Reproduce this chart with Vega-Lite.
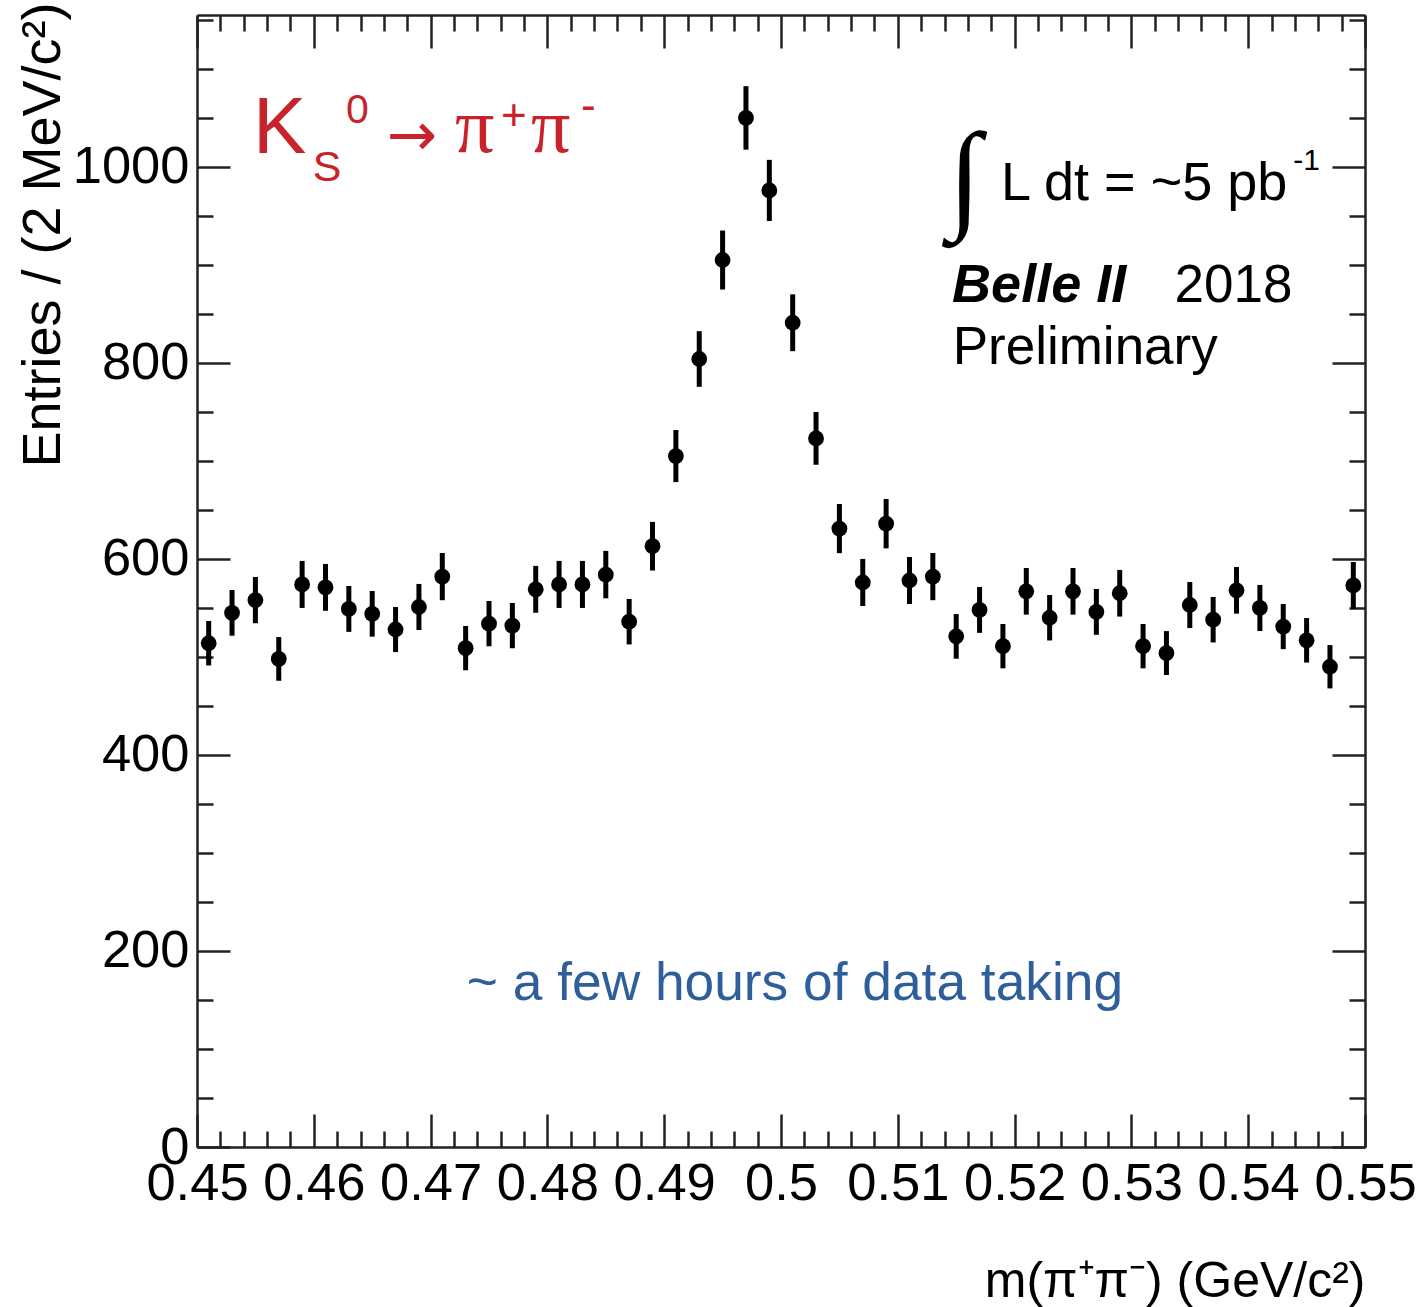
{
  "$schema": "https://vega.github.io/schema/vega-lite/v6.json",
  "width": 1168,
  "height": 1132,
  "autosize": "none",
  "padding": {"left": 197, "top": 15, "right": 56, "bottom": 160},
  "background": "white",
  "config": {
    "view": {"stroke": null},
    "font": "Liberation Sans",
    "axis": {
      "domainColor": "#222222",
      "domainWidth": 2.5,
      "tickColor": "#222222",
      "tickWidth": 2.5,
      "labelFont": "Liberation Sans",
      "labelFontSize": 52.5,
      "labelColor": "black",
      "labelFlush": false,
      "labelOverlap": false,
      "labelBound": false,
      "grid": false,
      "titleFont": "Liberation Sans",
      "titleFontWeight": "normal",
      "titleColor": "black"
    }
  },
  "data": {
    "values": [
      {"m": 0.451, "n": 514, "e": 22.7},
      {"m": 0.453, "n": 545, "e": 23.3},
      {"m": 0.455, "n": 558, "e": 23.6},
      {"m": 0.457, "n": 498, "e": 22.3},
      {"m": 0.459, "n": 574, "e": 24.0},
      {"m": 0.461, "n": 571, "e": 23.9},
      {"m": 0.463, "n": 549, "e": 23.4},
      {"m": 0.465, "n": 544, "e": 23.3},
      {"m": 0.467, "n": 528, "e": 23.0},
      {"m": 0.469, "n": 551, "e": 23.5},
      {"m": 0.471, "n": 582, "e": 24.1},
      {"m": 0.473, "n": 509, "e": 22.6},
      {"m": 0.475, "n": 534, "e": 23.1},
      {"m": 0.477, "n": 532, "e": 23.1},
      {"m": 0.479, "n": 569, "e": 23.9},
      {"m": 0.481, "n": 574, "e": 24.0},
      {"m": 0.483, "n": 574, "e": 24.0},
      {"m": 0.485, "n": 584, "e": 24.2},
      {"m": 0.487, "n": 536, "e": 23.2},
      {"m": 0.489, "n": 613, "e": 24.8},
      {"m": 0.491, "n": 705, "e": 26.6},
      {"m": 0.493, "n": 804, "e": 28.4},
      {"m": 0.495, "n": 905, "e": 30.1},
      {"m": 0.497, "n": 1050, "e": 32.4},
      {"m": 0.499, "n": 976, "e": 31.2},
      {"m": 0.501, "n": 841, "e": 29.0},
      {"m": 0.503, "n": 723, "e": 26.9},
      {"m": 0.505, "n": 631, "e": 25.1},
      {"m": 0.507, "n": 576, "e": 24.0},
      {"m": 0.509, "n": 636, "e": 25.2},
      {"m": 0.511, "n": 578, "e": 24.0},
      {"m": 0.513, "n": 582, "e": 24.1},
      {"m": 0.515, "n": 521, "e": 22.8},
      {"m": 0.517, "n": 548, "e": 23.4},
      {"m": 0.519, "n": 511, "e": 22.6},
      {"m": 0.521, "n": 567, "e": 23.8},
      {"m": 0.523, "n": 540, "e": 23.2},
      {"m": 0.525, "n": 567, "e": 23.8},
      {"m": 0.527, "n": 546, "e": 23.4},
      {"m": 0.529, "n": 565, "e": 23.8},
      {"m": 0.531, "n": 511, "e": 22.6},
      {"m": 0.533, "n": 504, "e": 22.4},
      {"m": 0.535, "n": 553, "e": 23.5},
      {"m": 0.537, "n": 538, "e": 23.2},
      {"m": 0.539, "n": 568, "e": 23.8},
      {"m": 0.541, "n": 550, "e": 23.5},
      {"m": 0.543, "n": 531, "e": 23.0},
      {"m": 0.545, "n": 517, "e": 22.7},
      {"m": 0.547, "n": 490, "e": 22.1},
      {"m": 0.549, "n": 573, "e": 23.9}
    ]
  },
  "resolve": {"axis": {"x": "independent", "y": "independent"}},
  "layer": [
    {
      "mark": {"type": "errorbar", "color": "black", "thickness": 5},
      "encoding": {
        "x": {
          "field": "m", "type": "quantitative",
          "scale": {"domain": [0.45, 0.55], "nice": false, "zero": false},
          "axis": {
            "orient": "top", "title": null, "labels": false,
            "values": [0.45,0.452,0.454,0.456,0.458,0.46,0.462,0.464,0.466,0.468,0.47,0.472,0.474,0.476,0.478,0.48,0.482,0.484,0.486,0.488,0.49,0.492,0.494,0.496,0.498,0.5,0.502,0.504,0.506,0.508,0.51,0.512,0.514,0.516,0.518,0.52,0.522,0.524,0.526,0.528,0.53,0.532,0.534,0.536,0.538,0.54,0.542,0.544,0.546,0.548,0.55],
            "tickSize": {"condition": {"test": "abs(datum.value*100 - round(datum.value*100)) < 1e-6", "value": -33}, "value": -16}
          }
        },
        "y": {
          "field": "n", "type": "quantitative",
          "scale": {"domain": [0, 1155], "nice": false, "zero": true},
          "axis": {
            "orient": "right", "title": null, "labels": false,
            "values": [0,50,100,150,200,250,300,350,400,450,500,550,600,650,700,750,800,850,900,950,1000,1050,1100,1150],
            "tickSize": {"condition": {"test": "datum.value % 200 === 0", "value": -33}, "value": -16}
          }
        },
        "yError": {"field": "e"}
      }
    },
    {
      "mark": {"type": "point", "filled": true, "shape": "circle", "size": 250, "color": "black", "opacity": 1},
      "encoding": {
        "x": {
          "field": "m", "type": "quantitative",
          "axis": {
            "orient": "bottom",
            "title": "m(π⁺π⁻) (GeV/c²)",
            "titleFontSize": 50,
            "titleAnchor": "end",
            "titlePadding": 30,
            "values": [0.45,0.452,0.454,0.456,0.458,0.46,0.462,0.464,0.466,0.468,0.47,0.472,0.474,0.476,0.478,0.48,0.482,0.484,0.486,0.488,0.49,0.492,0.494,0.496,0.498,0.5,0.502,0.504,0.506,0.508,0.51,0.512,0.514,0.516,0.518,0.52,0.522,0.524,0.526,0.528,0.53,0.532,0.534,0.536,0.538,0.54,0.542,0.544,0.546,0.548,0.55],
            "format": ".2~f",
            "labelExpr": "abs(datum.value*100 - round(datum.value*100)) < 1e-6 ? format(datum.value, '.2~f') : ''",
            "labelPadding": 44,
            "tickSize": {"condition": {"test": "abs(datum.value*100 - round(datum.value*100)) < 1e-6", "value": -33}, "value": -16}
          }
        },
        "y": {
          "field": "n", "type": "quantitative",
          "axis": {
            "orient": "left",
            "title": "Entries / (2 MeV/c²)",
            "titleFontSize": 54,
            "titleAnchor": "end",
            "titleY": -13,
            "titlePadding": 2,
            "values": [0,50,100,150,200,250,300,350,400,450,500,550,600,650,700,750,800,850,900,950,1000,1050,1100,1150],
            "format": "d",
            "labelExpr": "datum.value % 200 === 0 ? datum.label : ''",
            "labelPadding": 41,
            "tickSize": {"condition": {"test": "datum.value % 200 === 0", "value": -33}, "value": -16}
          }
        }
      }
    },
    {
      "data": {"values": [{}]},
      "mark": {"type": "text", "text": "K", "font": "Liberation Sans", "fontSize": 80, "color": "#c8232b", "align": "left", "baseline": "alphabetic"},
      "encoding": {"x": {"datum": 0.4548, "type": "quantitative", "axis": null}, "y": {"datum": 1014, "type": "quantitative", "axis": null}}
    },
    {
      "data": {"values": [{}]},
      "mark": {"type": "text", "text": "S", "font": "Liberation Sans", "fontSize": 43, "color": "#c8232b", "align": "left", "baseline": "alphabetic"},
      "encoding": {"x": {"datum": 0.4599, "type": "quantitative", "axis": null}, "y": {"datum": 986, "type": "quantitative", "axis": null}}
    },
    {
      "data": {"values": [{}]},
      "mark": {"type": "text", "text": "0", "font": "Liberation Sans", "fontSize": 41, "color": "#c8232b", "align": "left", "baseline": "alphabetic"},
      "encoding": {"x": {"datum": 0.46276, "type": "quantitative", "axis": null}, "y": {"datum": 1045, "type": "quantitative", "axis": null}}
    },
    {
      "data": {"values": [{}]},
      "mark": {"type": "text", "text": "→", "font": "DejaVu Sans", "fontSize": 60, "color": "#c8232b", "align": "left", "baseline": "alphabetic"},
      "encoding": {"x": {"datum": 0.46627, "type": "quantitative", "axis": null}, "y": {"datum": 1012, "type": "quantitative", "axis": null}}
    },
    {
      "data": {"values": [{}]},
      "mark": {"type": "text", "text": "π", "font": "Liberation Serif", "fontSize": 78, "color": "#c8232b", "align": "left", "baseline": "alphabetic"},
      "encoding": {"x": {"datum": 0.47209, "type": "quantitative", "axis": null}, "y": {"datum": 1015, "type": "quantitative", "axis": null}}
    },
    {
      "data": {"values": [{}]},
      "mark": {"type": "text", "text": "+", "font": "Liberation Sans", "fontSize": 44, "color": "#c8232b", "align": "left", "baseline": "alphabetic"},
      "encoding": {"x": {"datum": 0.47603, "type": "quantitative", "axis": null}, "y": {"datum": 1038, "type": "quantitative", "axis": null}}
    },
    {
      "data": {"values": [{}]},
      "mark": {"type": "text", "text": "π", "font": "Liberation Serif", "fontSize": 78, "color": "#c8232b", "align": "left", "baseline": "alphabetic"},
      "encoding": {"x": {"datum": 0.4786, "type": "quantitative", "axis": null}, "y": {"datum": 1015, "type": "quantitative", "axis": null}}
    },
    {
      "data": {"values": [{}]},
      "mark": {"type": "text", "text": "-", "font": "Liberation Sans", "fontSize": 44, "color": "#c8232b", "align": "left", "baseline": "alphabetic"},
      "encoding": {"x": {"datum": 0.48288, "type": "quantitative", "axis": null}, "y": {"datum": 1048, "type": "quantitative", "axis": null}}
    },
    {
      "data": {"values": [{}]},
      "mark": {"type": "text", "text": "∫", "font": "Liberation Serif", "fontSize": 120, "fontWeight": "bold", "color": "black", "align": "left", "baseline": "alphabetic"},
      "encoding": {"x": {"datum": 0.5143, "type": "quantitative", "axis": null}, "y": {"datum": 950, "type": "quantitative", "axis": null}}
    },
    {
      "data": {"values": [{}]},
      "mark": {"type": "text", "text": "L dt = ~5 pb", "font": "Liberation Sans", "fontSize": 54, "color": "black", "align": "left", "baseline": "alphabetic"},
      "encoding": {"x": {"datum": 0.51884, "type": "quantitative", "axis": null}, "y": {"datum": 966, "type": "quantitative", "axis": null}}
    },
    {
      "data": {"values": [{}]},
      "mark": {"type": "text", "text": "-1", "font": "Liberation Sans", "fontSize": 30, "color": "black", "align": "left", "baseline": "alphabetic"},
      "encoding": {"x": {"datum": 0.54385, "type": "quantitative", "axis": null}, "y": {"datum": 997, "type": "quantitative", "axis": null}}
    },
    {
      "data": {"values": [{}]},
      "mark": {"type": "text", "text": "Belle II", "font": "Liberation Sans", "fontSize": 54, "fontWeight": "bold", "fontStyle": "italic", "color": "black", "align": "left", "baseline": "alphabetic"},
      "encoding": {"x": {"datum": 0.51465, "type": "quantitative", "axis": null}, "y": {"datum": 862, "type": "quantitative", "axis": null}}
    },
    {
      "data": {"values": [{}]},
      "mark": {"type": "text", "text": "2018", "font": "Liberation Sans", "fontSize": 53, "color": "black", "align": "left", "baseline": "alphabetic"},
      "encoding": {"x": {"datum": 0.5337, "type": "quantitative", "axis": null}, "y": {"datum": 862, "type": "quantitative", "axis": null}}
    },
    {
      "data": {"values": [{}]},
      "mark": {"type": "text", "text": "Preliminary", "font": "Liberation Sans", "fontSize": 53, "color": "black", "align": "left", "baseline": "alphabetic"},
      "encoding": {"x": {"datum": 0.5147, "type": "quantitative", "axis": null}, "y": {"datum": 799, "type": "quantitative", "axis": null}}
    },
    {
      "data": {"values": [{}]},
      "mark": {"type": "text", "text": "~ a few hours of data taking", "font": "Liberation Sans", "fontSize": 53.3, "color": "#2f5f9b", "align": "left", "baseline": "alphabetic"},
      "encoding": {"x": {"datum": 0.4731, "type": "quantitative", "axis": null}, "y": {"datum": 150, "type": "quantitative", "axis": null}}
    }
  ]
}
